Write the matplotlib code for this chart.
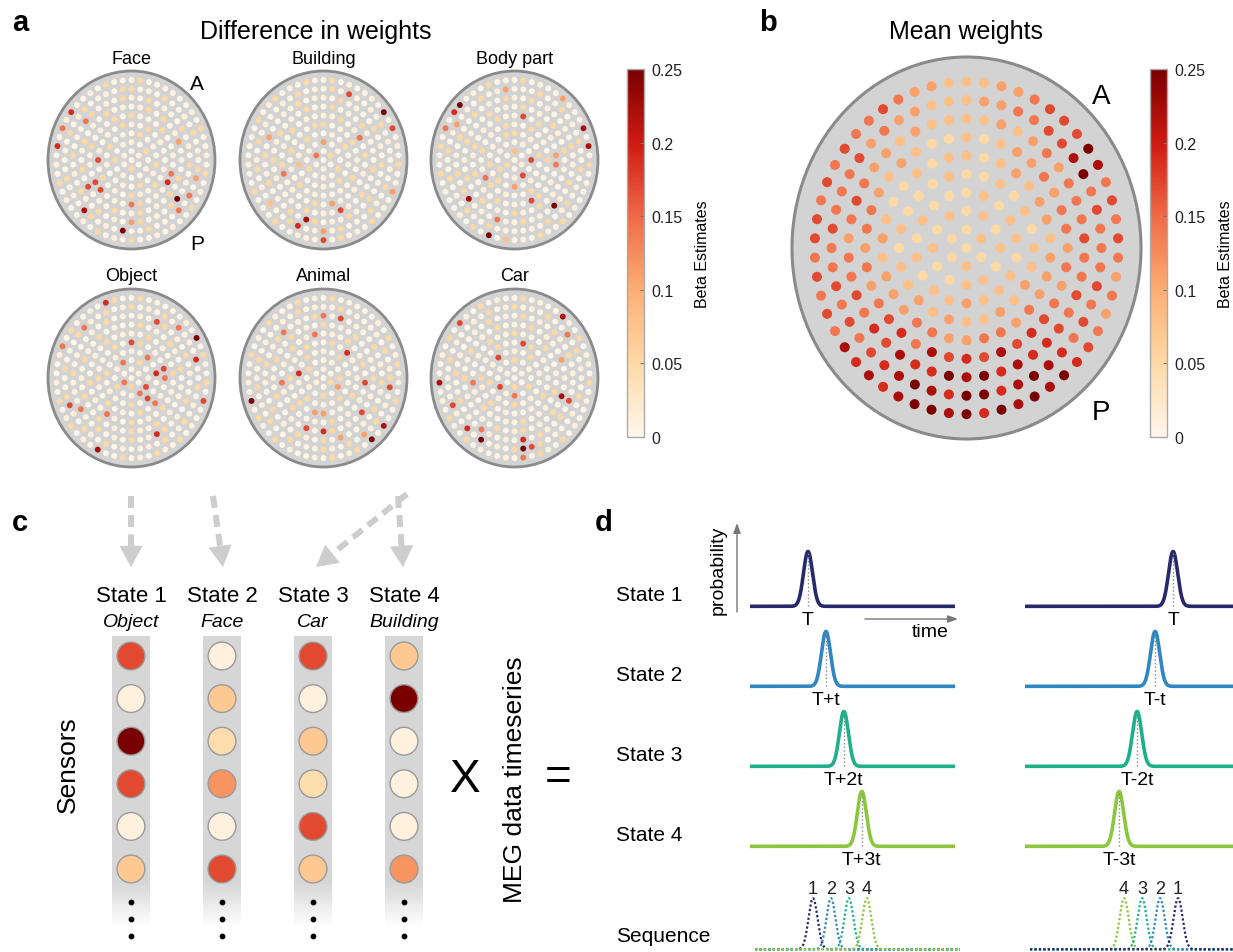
import numpy as np
import matplotlib
matplotlib.use("Agg")
import matplotlib.pyplot as plt
from matplotlib.colors import LinearSegmentedColormap, Normalize
from matplotlib.patches import Ellipse
from matplotlib.cm import ScalarMappable

plt.rcParams['font.family'] = ['Liberation Sans', 'DejaVu Sans']

W, H = 1233, 953

# ---------------------------------------------------------------- data
# sensor values are coded per ring (ring k holds 6k sensors, clockwise from
# the anterior midline); each digit is an index into LEVELS (beta estimate)
LEVELS = [0.004, 0.012, 0.05, 0.08, 0.11, 0.14, 0.17, 0.19, 0.22, 0.25]

face_rings = ["0", "010201", "102010 010201", "020102 102010 010201",
              "102010 010201 201020 610102",
              "201020 010570 102501 066010 201020",
              "012020 140102 020102 102010 602012 010201",
              "102010 020102 010920 102401 020120 102010 520102",
              "201020 010201 024050 501020 090102 801020 010201 200102",
              "020010 001020 010201 020010 100201 020100 102010 705170 010200"]
building_rings = ["0", "020105", "401020 102010", "010201 020100 031020",
                  "201020 102010 010201 020102",
                  "102015 020101 014020 010520 102010",
                  "020102 101020 020160 102010 010201 201020",
                  "102010 020102 010201 201028 020102 102040 010201",
                  "020610 102010 010201 201020 410720 030102 102010 010201",
                  "020100 109060 102014 010201 020601 100201 020010 010201 201020"]
bodypart_rings = ["0", "301020", "010606 102010", "201020 010402 020102",
                  "102010 201020 010250 020102",
                  "060201 045010 260102 010201 201020",
                  "020102 102010 010201 201020 020102 100201",
                  "102010 010201 020190 102015 010820 201020 020102",
                  "010201 201020 020102 102010 010201 201020 020140 102014",
                  "020100 410080 802010 010201 201030 902010 010201 205079 010200"]
object_rings = ["0", "010250", "020165 102015", "105070 060201 102010",
                "620106 501502 010201 201020",
                "102010 020102 010201 501020 010201",
                "020102 102010 010201 201020 020102 102010",
                "010620 102010 020102 710201 020150 102010 010201",
                "201020 501070 020102 102010 010201 201620 020102 510201",
                "020100 010902 102060 010201 201020 080102 102010 015020 010720"]
animal_rings = ["0", "102010", "010240 201020", "102010 020102 017020",
                "020710 102010 440201 201020",
                "010201 206010 102010 020150 102015",
                "201020 010201 060102 706010 020102 102010",
                "506010 020102 102010 040201 201020 010201 250102",
                "102010 010201 260102 140201 201020 020102 102010 010201",
                "020100 010201 201020 080902 102010 010201 209010 020102 100201"]
car_rings = ["0", "010201", "201020 516010", "102010 010201 020160",
             "062010 102010 010201 201020",
             "201020 010201 102010 020150 010201",
             "102010 040108 020102 102010 010201 201020",
             "020102 102010 060201 207010 150102 102010 010201",
             "201020 050201 102010 010269 201090 701600 102010 010201",
             "020100 810201 102010 010201 205010 010201 201080 010206 102010"]
mean_rings = ["2", "232322", "232323 322323", "232332 333433 232322",
              "223232 334343 343433 232223",
              "323434 434445 455445 544434 322323",
              "323445 455454 567686 768576 545455 434322",
              "334345 455565 565677 879897 786756 554565 443433",
              "344556 689565 556565 789879 978987 656565 565556 454433",
              "334456 669856 565454 567989 897989 987878 565656 656565 565443"]

conditions = ['Face', 'Building', 'Body part', 'Object', 'Animal', 'Car']
condition_rings = [face_rings, building_rings, bodypart_rings,
                   object_rings, animal_rings, car_rings]

state_names = ['State 1', 'State 2', 'State 3', 'State 4']
state_labels = ['Object', 'Face', 'Car', 'Building']
object_col = [0.17, 0.01, 0.25, 0.17, 0.01, 0.07]
face_col = [0.01, 0.07, 0.045, 0.12, 0.01, 0.17]
car_col = [0.17, 0.01, 0.07, 0.045, 0.17, 0.07]
building_col = [0.07, 0.25, 0.01, 0.01, 0.01, 0.12]
state_cols = [object_col, face_col, car_col, building_col]

state_colors = ['#27296b', '#2f86c1', '#1eb08a', '#8cc63f']
state_lags = [0, 1, 2, 3]
fwd_labels = ['T', 'T+t', 'T+2t', 'T+3t']
bwd_labels = ['T', 'T-t', 'T-2t', 'T-3t']

# ---------------------------------------------------------------- helpers
cmap = LinearSegmentedColormap.from_list('beta', [
    (0.0, '#fff7ec'), (0.2, '#fdd9a6'), (0.4, '#fdae74'),
    (0.6, '#ef6a47'), (0.8, '#cf1a12'), (1.0, '#7a0000')])
norm = Normalize(0, 0.25)

fig = plt.figure(figsize=(W / 100, H / 100), dpi=100)


def px_axes(x, y, w, h):
    return fig.add_axes([x / W, 1 - (y + h) / H, w / W, h / H])


def decode(rings):
    vals = []
    for k, ring in enumerate(rings):
        s = ring.replace(' ', '')
        n = 1 if k == 0 else 6 * k
        if len(s) != n:
            raise ValueError("ring %d has %d values, expected %d" % (k, len(s), n))
        vals.extend(LEVELS[int(c)] for c in s)
    return np.array(vals)


def sensor_positions(r_max, n_rings=9):
    xs, ys = [0.0], [0.0]
    for k in range(1, n_rings + 1):
        phi = 2 * np.pi * np.arange(6 * k) / (6 * k)
        r = r_max * k / n_rings
        xs.extend(r * np.sin(phi))
        ys.extend(r * np.cos(phi))
    return np.array(xs), np.array(ys)


def topoplot(box, rings, r_max, dot_size, lw):
    x0, y0, w, h = box
    ax = px_axes(x0 - 0.01 * w, y0 - 0.01 * h, 1.02 * w, 1.02 * h)
    ax.add_patch(Ellipse((0, 0), 2, 2, facecolor='#d3d3d3', edgecolor='#8a8a8a',
                         lw=lw, clip_on=False, zorder=0))
    sx, sy = sensor_positions(r_max)
    ax.scatter(sx, sy, c=decode(rings), cmap=cmap, norm=norm, s=dot_size,
               linewidths=0, zorder=2)
    ax.set_xlim(-1.02, 1.02)
    ax.set_ylim(-1.02, 1.02)
    ax.axis('off')
    return ax


def colorbar(box):
    cax = px_axes(*box)
    cb = fig.colorbar(ScalarMappable(norm=norm, cmap=cmap), cax=cax,
                      ticks=[0, 0.05, 0.1, 0.15, 0.2, 0.25])
    cb.ax.set_yticklabels(['0', '0.05', '0.1', '0.15', '0.2', '0.25'])
    cb.ax.tick_params(labelsize=11.5, length=3, width=0.8, direction='in',
                      color='#777777', labelcolor='#222222', pad=5)
    cb.outline.set_edgecolor('#aaaaaa')
    cb.outline.set_linewidth(1)
    cb.set_label('Beta Estimates', fontsize=11.5, labelpad=9)


# overlay axes in pixel units for annotations
ov = fig.add_axes([0, 0, 1, 1])
ov.set_xlim(0, W)
ov.set_ylim(H, 0)
ov.axis('off')


def dashed_arrow(start, end, color='#cdcdcd'):
    s = np.array(start, float)
    e = np.array(end, float)
    d = (e - s) / np.hypot(*(e - s))
    base = e - d * 20
    ov.plot([s[0], base[0]], [s[1], base[1]], color=color, lw=4.3,
            linestyle=(0, (2.0, 1.2)), dash_capstyle='butt')
    ov.annotate('', xy=tuple(e), xytext=tuple(base),
                arrowprops=dict(arrowstyle='-|>,head_width=0.8,head_length=1.45',
                                color=color, lw=0.5, shrinkA=0, shrinkB=0,
                                mutation_scale=10))


# ---------------------------------------------------------------- panel a
for lab, x, y in [('a', 12, 31), ('b', 759, 31), ('c', 12, 531), ('d', 595, 531)]:
    ov.text(x, y, lab, fontsize=21, fontweight='bold', ha='left', va='baseline')

ov.text(316, 32, 'Difference in weights', fontsize=18, ha='center', va='center')
lefts = [48, 240, 431]
tops = [72, 290]
for i, (name, rings) in enumerate(zip(conditions, condition_rings)):
    x0 = lefts[i % 3]
    y0 = tops[i // 3]
    topoplot((x0, y0, 167, 178), rings, 0.9, 18, 2.0)
    ov.text(x0 + 83.5, y0 - 13, name, fontsize=13, ha='center', va='center')
ov.text(197, 84, 'A', fontsize=15, ha='center', va='center')
ov.text(197, 244, 'P', fontsize=15, ha='center', va='center')
colorbar((627, 70, 17, 368))

# ---------------------------------------------------------------- panel b
ov.text(966, 32, 'Mean weights', fontsize=18, ha='center', va='center')
topoplot((792, 58, 349, 382), mean_rings, 0.87, 52, 2.2)
ov.text(1101, 97, 'A', fontsize=20, ha='center', va='center')
ov.text(1101, 413, 'P', fontsize=20, ha='center', va='center')
colorbar((1150, 70, 17, 368))

# ---------------------------------------------------------------- panel c
for start, end in [((131, 497), (131, 568)), ((213, 497), (223, 568)),
                   ((407, 495), (316, 568)), ((398, 497), (403, 568))]:
    dashed_arrow(start, end)

axc = px_axes(85, 630, 365, 315)
cols = np.arange(len(state_names))
n_rows = len(object_col)
bw = 0.42
bar_top, fade_start, fade_end = -0.47, n_rows - 0.7, n_rows + 0.35
axc.bar(cols, fade_start - bar_top, bottom=bar_top, width=bw, color='#d6d6d6',
        zorder=0)
# fading tail of the sensor strips
n_fade = 40
edges = np.linspace(fade_start, fade_end, n_fade + 1)
for k in range(n_fade):
    axc.bar(cols, edges[k + 1] - edges[k], bottom=edges[k], width=bw,
            color='#d6d6d6', alpha=1 - (k + 0.5) / n_fade, linewidth=0, zorder=0)
for c, vals in zip(cols, state_cols):
    axc.scatter(np.full(n_rows, c), np.arange(n_rows), c=vals, cmap=cmap,
                norm=norm, s=400, edgecolors='#9a9a9a', linewidths=1, zorder=3)
    axc.scatter(np.full(3, c), n_rows - 0.23 + 0.4 * np.arange(3), s=10,
                color='black', zorder=3)
for c, name, lab in zip(cols, state_names, state_labels):
    axc.text(c, -1.43, name, fontsize=16, ha='center', va='center', clip_on=False)
    axc.text(c, -0.8, lab, fontsize=14, style='italic', ha='center',
             va='center', clip_on=False)
axc.set_xlim(-0.505, 3.505)
axc.set_ylim(6.761, -0.634)
axc.axis('off')

ov.text(68, 765, 'Sensors', fontsize=19, rotation=90, ha='center', va='center')
ov.text(465, 780, 'X', fontsize=33, ha='center', va='center')
ov.text(515, 780, 'MEG data timeseries', fontsize=19, rotation=90,
        ha='center', va='center')
ov.text(558, 778, '=', fontsize=33, ha='center', va='center')

# ---------------------------------------------------------------- panel d
baselines = [607, 687, 767, 847]
sides = [(750, 205, 0.283, 0.0875, fwd_labels),
         (1025, 208, 0.712, -0.0865, bwd_labels)]
t = np.linspace(0, 1, 800)
sigma = 0.022
for i, name in enumerate(state_names):
    ov.text(616, baselines[i] - 11, name, fontsize=15, ha='left', va='center')
    for x0, w, T0, step, labels in sides:
        ax = px_axes(x0, baselines[i] - 62, w, 67)
        p = T0 + state_lags[i] * step
        ax.plot(t, 0.88 * np.exp(-0.5 * ((t - p) / sigma) ** 2),
                color=state_colors[i], lw=2.6, solid_capstyle='butt')
        ax.plot([p, p], [0, 0.86], linestyle=':', color='#888888', lw=1)
        ax.text(p, -0.07, labels[i], fontsize=14, ha='center', va='top')
        ax.set_xlim(0, 1)
        ax.set_ylim(-0.075, 1.0)
        ax.axis('off')

ov.text(616, 937, 'Sequence', fontsize=15, ha='left', va='center')
for x0, w, T0, step, labels in sides:
    ax = px_axes(x0 + 5, 950 - 62, w, 67)
    order = range(4) if step > 0 else range(3, -1, -1)
    for i in order:
        p = T0 + state_lags[i] * step
        ax.plot(t, 0.82 * np.exp(-0.5 * ((t - p) / sigma) ** 2),
                color=state_colors[i], lw=1.6, linestyle=(0, (1, 1)))
        ax.text(p, 0.98, str(i + 1), fontsize=13, color='#222222',
                ha='center', va='center')
    ax.set_xlim(0, 1)
    ax.set_ylim(-0.075, 1.0)
    ax.axis('off')

ov.annotate('', xy=(737, 524), xytext=(737, 613),
            arrowprops=dict(arrowstyle='-|>,head_width=0.22,head_length=0.6',
                            color='#777777', lw=1, shrinkA=0, shrinkB=0))
ov.annotate('', xy=(958, 620), xytext=(865, 620),
            arrowprops=dict(arrowstyle='-|>,head_width=0.22,head_length=0.6',
                            color='#777777', lw=1, shrinkA=0, shrinkB=0))
ov.text(718, 570, 'probability', fontsize=14, rotation=90, ha='center', va='center')
ov.text(930, 633, 'time', fontsize=14, ha='center', va='center')

fig.savefig('out.png', dpi=100)
